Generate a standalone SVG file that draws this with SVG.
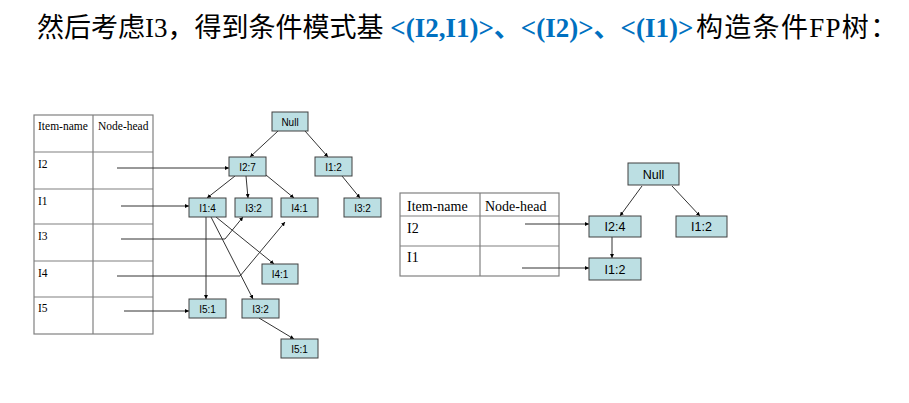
<svg xmlns="http://www.w3.org/2000/svg" width="909" height="403" viewBox="0 0 909 403">
<defs>
<marker id="ah" viewBox="0 0 10 10" refX="10" refY="5" markerWidth="4" markerHeight="4" orient="auto" markerUnits="userSpaceOnUse">
<path d="M0,0 L10,5 L0,10 z" fill="#000"/>
</marker>
<style>
.title{font-family:"Liberation Serif","Noto Sans CJK SC",serif;font-size:27px;fill:#000}
.blue{fill:#0070C0;font-weight:bold}
.tbl{fill:none;stroke:#808080;stroke-width:1.2}
.tt{font-family:"Liberation Serif",serif;font-size:11.5px;fill:#000}
.tt2{font-family:"Liberation Serif",serif;font-size:14px;fill:#000}
.node rect{fill:#BCDFE3;stroke:#404040;stroke-width:1}
.node text{font-family:"Liberation Sans",Arial,sans-serif;font-size:10px;fill:#000;text-anchor:middle}
.big rect{fill:#BCDFE3;stroke:#404040;stroke-width:1}
.big text{font-family:"Liberation Sans",Arial,sans-serif;font-size:12.5px;fill:#000;text-anchor:middle}
.edge{fill:none;stroke:#333;stroke-width:1;marker-end:url(#ah)}
</style>
</defs>
<rect width="909" height="403" fill="#fff"/>
<text class="title" x="37" y="37">然后考虑I3，得到条件模式基<tspan class="blue"> &lt;(I2,I1)&gt;、&lt;(I2)&gt;、&lt;(I1)&gt;</tspan><tspan x="696" letter-spacing="1.3">构造条件FP树：</tspan></text>

<g id="table-left">
<rect class="tbl" x="34" y="115" width="119" height="219"/>
<line class="tbl" x1="93" y1="115" x2="93" y2="334"/>
<line class="tbl" x1="34" y1="152" x2="153" y2="152"/>
<line class="tbl" x1="34" y1="189" x2="153" y2="189"/>
<line class="tbl" x1="34" y1="224" x2="153" y2="224"/>
<line class="tbl" x1="34" y1="261" x2="153" y2="261"/>
<line class="tbl" x1="34" y1="297" x2="153" y2="297"/>
<text class="tt" x="38" y="130">Item-name</text>
<text class="tt" x="98" y="130">Node-head</text>
<text class="tt" x="38" y="168">I2</text>
<text class="tt" x="38" y="205">I1</text>
<text class="tt" x="38" y="240">I3</text>
<text class="tt" x="38" y="277">I4</text>
<text class="tt" x="38" y="312">I5</text>
</g>

<g id="table-right">
<rect class="tbl" x="400" y="193" width="159" height="83"/>
<line class="tbl" x1="480" y1="193" x2="480" y2="276"/>
<line class="tbl" x1="400" y1="216" x2="559" y2="216"/>
<line class="tbl" x1="400" y1="246" x2="559" y2="246"/>
<text class="tt2" x="407" y="211">Item-name</text>
<text class="tt2" x="485" y="211">Node-head</text>
<text class="tt2" x="407" y="233">I2</text>
<text class="tt2" x="407" y="262">I1</text>
</g>

<g id="connectors">
<line class="edge" x1="117" y1="168" x2="229" y2="168"/>
<line class="edge" x1="121" y1="206" x2="189" y2="206"/>
<polyline class="edge" points="121,239 225,239 243,217"/>
<polyline class="edge" points="117,276 240,276 285,222"/>
<line class="edge" x1="124" y1="311" x2="189" y2="311"/>
<line class="edge" x1="278" y1="131" x2="250" y2="157"/>
<line class="edge" x1="305" y1="131" x2="328" y2="157"/>
<line class="edge" x1="235" y1="176" x2="207" y2="198"/>
<line class="edge" x1="246" y1="176" x2="248" y2="198"/>
<line class="edge" x1="266" y1="175" x2="294" y2="198"/>
<line class="edge" x1="342" y1="176" x2="360" y2="198"/>
<line class="edge" x1="206" y1="217" x2="206" y2="299"/>
<line class="edge" x1="211" y1="217" x2="253" y2="299"/>
<line class="edge" x1="216" y1="217" x2="274" y2="264"/>
<line class="edge" x1="259" y1="318" x2="294" y2="339"/>
<line class="edge" x1="525" y1="224" x2="589" y2="224"/>
<line class="edge" x1="522" y1="268" x2="589" y2="268"/>
<line class="edge" x1="642" y1="186" x2="620" y2="216"/>
<line class="edge" x1="672" y1="186" x2="700" y2="216"/>
<line class="edge" x1="612" y1="237" x2="612" y2="258"/>
</g>

<g id="n-null-l" class="node"><rect x="272" y="112" width="36" height="19"/><text x="290" y="125.5">Null</text></g>
<g id="n-i2-7" class="node"><rect x="229" y="157" width="37" height="19"/><text x="247.5" y="170.5">I2:7</text></g>
<g id="n-i1-2-l" class="node"><rect x="315" y="157" width="37" height="19"/><text x="333.5" y="170.5">I1:2</text></g>
<g id="n-i1-4" class="node"><rect x="189" y="198" width="37" height="19"/><text x="207.5" y="211.5">I1:4</text></g>
<g id="n-i3-2-a" class="node"><rect x="235" y="198" width="37" height="19"/><text x="253.5" y="211.5">I3:2</text></g>
<g id="n-i4-1-a" class="node"><rect x="281" y="198" width="37" height="19"/><text x="299.5" y="211.5">I4:1</text></g>
<g id="n-i3-2-b" class="node"><rect x="344" y="198" width="37" height="19"/><text x="362.5" y="211.5">I3:2</text></g>
<g id="n-i4-1-b" class="node"><rect x="262" y="264" width="36" height="20"/><text x="280" y="278">I4:1</text></g>
<g id="n-i5-1-a" class="node"><rect x="189" y="299" width="37" height="19"/><text x="207.5" y="312.5">I5:1</text></g>
<g id="n-i3-2-c" class="node"><rect x="242" y="299" width="37" height="19"/><text x="260.5" y="312.5">I3:2</text></g>
<g id="n-i5-1-b" class="node"><rect x="281" y="339" width="37" height="19"/><text x="299.5" y="352.5">I5:1</text></g>

<g id="n-null-r" class="big"><rect x="628" y="163" width="51" height="22"/><text x="653.5" y="178.5">Null</text></g>
<g id="n-i2-4" class="big"><rect x="589" y="216" width="52" height="21"/><text x="615" y="231">I2:4</text></g>
<g id="n-i1-2-r" class="big"><rect x="676" y="216" width="51" height="21"/><text x="701.5" y="231">I1:2</text></g>
<g id="n-i1-2-d" class="big"><rect x="589" y="258" width="52" height="22"/><text x="615" y="273.5">I1:2</text></g>
</svg>
